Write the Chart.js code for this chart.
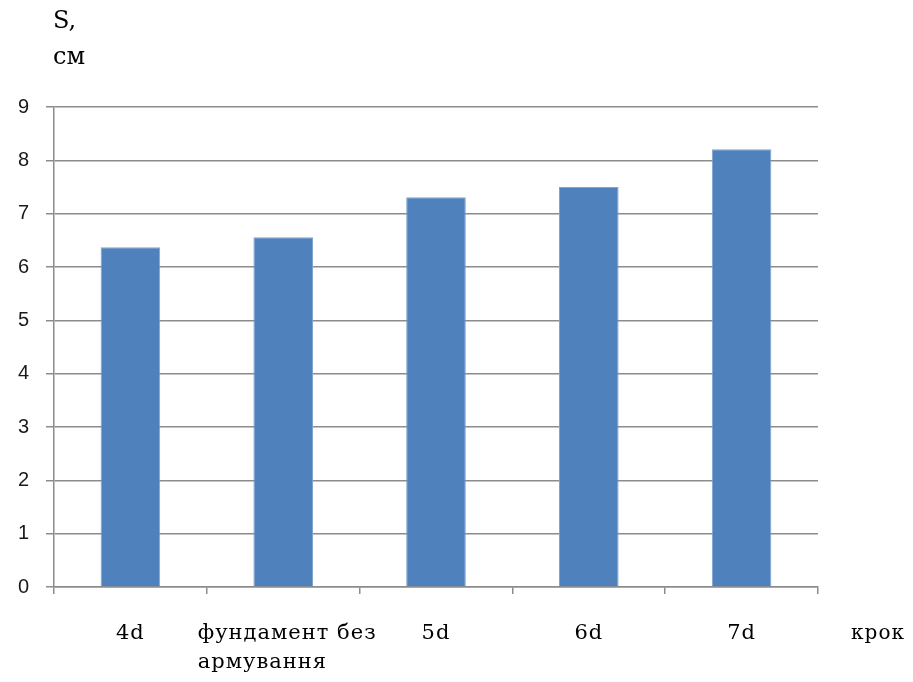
<!DOCTYPE html>
<html>
<head>
<meta charset="utf-8">
<script src="https://cdn.jsdelivr.net/npm/chart.js@4"></script>
<style>
  html, body { margin: 0; padding: 0; background: #fff; }
  #wrap { width: 913px; height: 682px; position: relative; }
</style>
</head>
<body>
<div id="wrap"><canvas id="c" width="913" height="682"></canvas></div>
<script>
// Settlement S (cm) for each reinforcement step
const categories = [["4d"], ["фундамент без", "армування"], ["5d"], ["6d"], ["7d"]];
const settlement = [6.37, 6.56, 7.31, 7.50, 8.21];
const yTicks = [0, 1, 2, 3, 4, 5, 6, 7, 8, 9];

const serif = '"DejaVu Serif", "Liberation Serif", serif';
const gridGray = '#8c8c8c';

// Category labels, axis unit and x-axis caption
const labelPlugin = {
  id: 'labels',
  afterDraw(chart) {
    const ctx = chart.ctx;
    const x = chart.scales.x;
    const area = chart.chartArea;
    ctx.save();
    ctx.fillStyle = '#000';
    ctx.font = '21px ' + serif;
    ctx.letterSpacing = '1px';
    ctx.textBaseline = 'middle';
    categories.forEach((lines, i) => {
      const cx = x.getPixelForValue(i) + (lines.length > 1 ? 4 : 0);
      const w0 = ctx.measureText(lines[0]).width;
      const left = cx - w0 / 2;
      lines.forEach((line, j) => {
        ctx.textAlign = 'left';
        ctx.fillText(line, left, area.bottom + 47 + j * 29);
      });
    });
    ctx.font = '20px ' + serif;
    ctx.textAlign = 'center';
    ctx.fillText('крок', area.right + 60, area.bottom + 47);
    ctx.font = '24px ' + serif;
    ctx.letterSpacing = '0px';
    ctx.textAlign = 'left';
    ctx.fillText('S,', area.left - 1, 22);
    ctx.fillText('см', area.left - 1, 58);
    ctx.restore();
  }
};

new Chart(document.getElementById('c'), {
  type: 'bar',
  data: {
    labels: categories,
    datasets: [{
      data: settlement,
      backgroundColor: '#4f81bd',
      borderColor: '#7ea3d0',
      borderWidth: 1,
      categoryPercentage: 1,
      barPercentage: 0.39
    }]
  },
  options: {
    responsive: false,
    animation: false,
    devicePixelRatio: 1,
    layout: { padding: { top: 107, right: 95, left: 0, bottom: 0 } },
    plugins: { legend: { display: false }, tooltip: { enabled: false } },
    scales: {
      x: {
        offset: true,
        afterFit(s) { s.height = 95; },
        grid: { offset: true, drawOnChartArea: false, drawTicks: true, tickLength: 7, color: gridGray, lineWidth: 1.5 },
        border: { color: gridGray, width: 1.5 },
        ticks: { display: false }
      },
      y: {
        min: 0,
        max: 9,
        afterFit(s) { s.width = 54; },
        afterBuildTicks(s) { s.ticks = yTicks.map(v => ({ value: v })); },
        grid: { color: gridGray, lineWidth: 1.5, tickLength: 8 },
        border: { color: gridGray, width: 1.5 },
        ticks: {
          color: '#1a1a1a',
          padding: 17,
          font: { family: '"Liberation Sans", Arial, sans-serif', size: 20, weight: '500' }
        }
      }
    }
  },
  plugins: [labelPlugin]
});
</script>
</body>
</html>
